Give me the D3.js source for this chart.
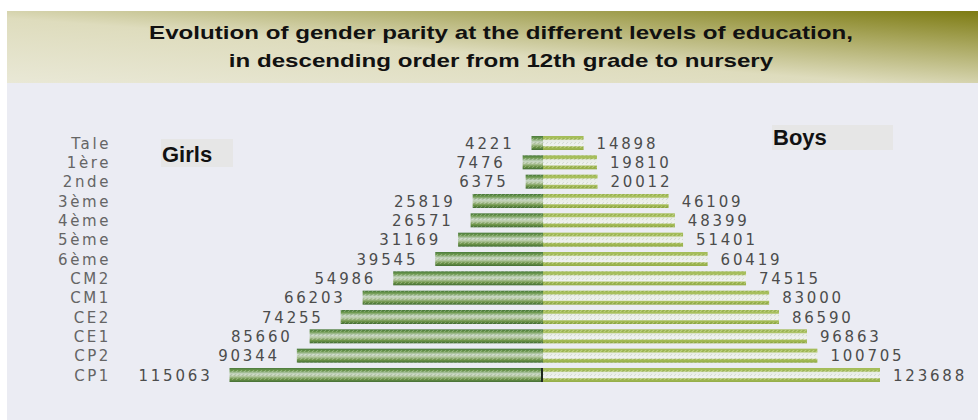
<!DOCTYPE html>
<html>
<head>
<meta charset="utf-8">
<script src="https://cdn.jsdelivr.net/npm/d3@7/dist/d3.min.js"></script>
<style>
  html, body { margin: 0; padding: 0; background: #fff; }
  svg { display: block; }
</style>
</head>
<body>
<div id="chart"></div>
<script>
const levels = ['Tale', '1ère', '2nde', '3ème', '4ème', '5ème', '6ème', 'CM2', 'CM1', 'CE2', 'CE1', 'CP2', 'CP1'];
const girls  = [4221, 7476, 6375, 25819, 26571, 31169, 39545, 54986, 66203, 74255, 85660, 90344, 115063];
const boys   = [14898, 19810, 20012, 46109, 48399, 51401, 60419, 74515, 83000, 86590, 96863, 100705, 123688];
const titleLines = [
  'Evolution of gender parity at the different levels of education,',
  'in descending order from 12th grade to nursery'
];

const W = 978, H = 420;
const center = 543;
const maxV = d3.max(boys);

const svg = d3.select('#chart').append('svg')
  .attr('width', W).attr('height', H);

const defs = svg.append('defs');

// banner gradient, light bottom-left to olive top-right
const bg = defs.append('linearGradient').attr('id', 'banner')
  .attr('x1', 0).attr('y1', 1).attr('x2', 1).attr('y2', 0);
[[0, '#e9e8d6'], [0.45, '#dedcbd'], [0.75, '#aaa860'], [1, '#7d7b12']]
  .forEach(([o, c]) => bg.append('stop').attr('offset', o).attr('stop-color', c));

// girls bar: green with pale middle
const gg = defs.append('linearGradient').attr('id', 'girlsFill')
  .attr('x1', 0).attr('y1', 0).attr('x2', 0).attr('y2', 1);
[[0, '#4a7a3c'], [0.18, '#6e9a50'], [0.42, '#c8d6c4'], [0.58, '#b8caa6'], [0.8, '#6f9649'], [1, '#436e34']]
  .forEach(([o, c]) => gg.append('stop').attr('offset', o).attr('stop-color', c));

// boys bar: yellow-green stripes top and bottom, white middle
const bgr = defs.append('linearGradient').attr('id', 'boysFill')
  .attr('x1', 0).attr('y1', 0).attr('x2', 0).attr('y2', 1);
[[0, '#a3bc58'], [0.22, '#a9c05e'], [0.32, '#e8ece6'], [0.68, '#eff1ef'], [0.78, '#a6bd57'], [1, '#93ac47']]
  .forEach(([o, c]) => bgr.append('stop').attr('offset', o).attr('stop-color', c));

// knit-like texture
const pat = defs.append('pattern').attr('id', 'knit')
  .attr('width', 4).attr('height', 4).attr('patternUnits', 'userSpaceOnUse');
pat.append('path').attr('d', 'M0,4 L2,2').attr('stroke', '#ffffff').attr('stroke-opacity', 0.22).attr('stroke-width', 1);
pat.append('path').attr('d', 'M2,4 L4,2').attr('stroke', '#2a4a20').attr('stroke-opacity', 0.12).attr('stroke-width', 1);

// page background
svg.append('rect').attr('x', 7).attr('y', 83).attr('width', W - 7).attr('height', H - 83)
  .attr('fill', '#ebecf3');

// title banner
svg.append('rect').attr('x', 7).attr('y', 11).attr('width', W - 7).attr('height', 72)
  .attr('fill', 'url(#banner)');
const titles = svg.append('g').selectAll('text')
  .data(titleLines)
  .join('text')
  .attr('x', 501)
  .attr('y', (d, i) => 39 + i * 28)
  .attr('text-anchor', 'middle')
  .attr('font-family', 'Liberation Sans, Arial, sans-serif')
  .attr('font-weight', 'bold')
  .attr('font-size', 19)
  .attr('fill', '#111')
  .text(d => d);
// the scan's title is stretched horizontally
titles.each(function() {
  const len = this.getComputedTextLength();
  d3.select(this).attr('textLength', len * 1.27).attr('lengthAdjust', 'spacingAndGlyphs');
});

// scales
const y = d3.scalePoint().domain(levels).range([143, 375]);
const barH = 14;
const xg = d3.scaleLinear().domain([0, maxV]).range([center, center - 337]);
const xb = d3.scaleLinear().domain([0, maxV]).range([center, center + 337]);

const rows = levels.map((l, i) => ({ level: l, g: girls[i], b: boys[i] }));

const g = svg.append('g');

// girls bars
g.selectAll('.girl')
  .data(rows)
  .join('rect')
  .attr('class', 'girl')
  .attr('x', d => xg(d.g))
  .attr('y', d => y(d.level) - barH / 2)
  .attr('width', d => xg(0) - xg(d.g))
  .attr('height', barH)
  .attr('fill', 'url(#girlsFill)');

// boys bars
g.selectAll('.boy')
  .data(rows)
  .join('rect')
  .attr('class', 'boy')
  .attr('x', xb(0))
  .attr('y', d => y(d.level) - barH / 2)
  .attr('width', d => xb(d.b) - xb(0))
  .attr('height', barH)
  .attr('fill', 'url(#boysFill)');

// texture overlay
g.selectAll('.tex')
  .data(rows)
  .join('rect')
  .attr('class', 'tex')
  .attr('x', d => xg(d.g))
  .attr('y', d => y(d.level) - barH / 2)
  .attr('width', d => xb(d.b) - xg(d.g))
  .attr('height', barH)
  .attr('fill', 'url(#knit)');

// dark divider on the widest row
const last = rows[rows.length - 1];
g.append('rect')
  .attr('x', xg(0) - 2).attr('y', y(last.level) - barH / 2)
  .attr('width', 2).attr('height', barH)
  .attr('fill', '#1e2a1c');

const numFont = 'DejaVu Sans, Verdana, sans-serif';

// girls values
g.selectAll('.gval')
  .data(rows)
  .join('text')
  .attr('class', 'gval')
  .attr('x', d => xg(d.g) - 17)
  .attr('y', d => y(d.level) + 5.5)
  .attr('text-anchor', 'end')
  .attr('font-family', numFont)
  .attr('font-size', 15)
  .attr('letter-spacing', 2.8)
  .attr('fill', '#4c4c4c')
  .text(d => d.g);

// boys values
g.selectAll('.bval')
  .data(rows)
  .join('text')
  .attr('class', 'bval')
  .attr('x', d => xb(d.b) + 13)
  .attr('y', d => y(d.level) + 5.5)
  .attr('font-family', numFont)
  .attr('font-size', 15)
  .attr('letter-spacing', 2.8)
  .attr('fill', '#4c4c4c')
  .text(d => d.b);

// level labels
g.selectAll('.lvl')
  .data(rows)
  .join('text')
  .attr('class', 'lvl')
  .attr('x', 111)
  .attr('y', d => y(d.level) + 5.5)
  .attr('text-anchor', 'end')
  .attr('font-family', numFont)
  .attr('font-size', 15)
  .attr('letter-spacing', 2.6)
  .attr('fill', '#656565')
  .text(d => d.level);

// legend boxes
const legend = [
  { label: 'Girls', x: 161, y: 139, w: 72, h: 28 },
  { label: 'Boys', x: 772, y: 125, w: 121, h: 25 }
];
const lg = svg.append('g').selectAll('g')
  .data(legend)
  .join('g');
lg.append('rect')
  .attr('x', d => d.x).attr('y', d => d.y)
  .attr('width', d => d.w).attr('height', d => d.h)
  .attr('fill', '#e6e6e6');
lg.append('text')
  .attr('x', d => d.x + 1)
  .attr('y', d => d.y + d.h - 5)
  .attr('font-family', 'Liberation Sans, Arial, sans-serif')
  .attr('font-weight', 'bold')
  .attr('font-size', 22)
  .attr('fill', '#111')
  .text(d => d.label);
</script>
</body>
</html>
